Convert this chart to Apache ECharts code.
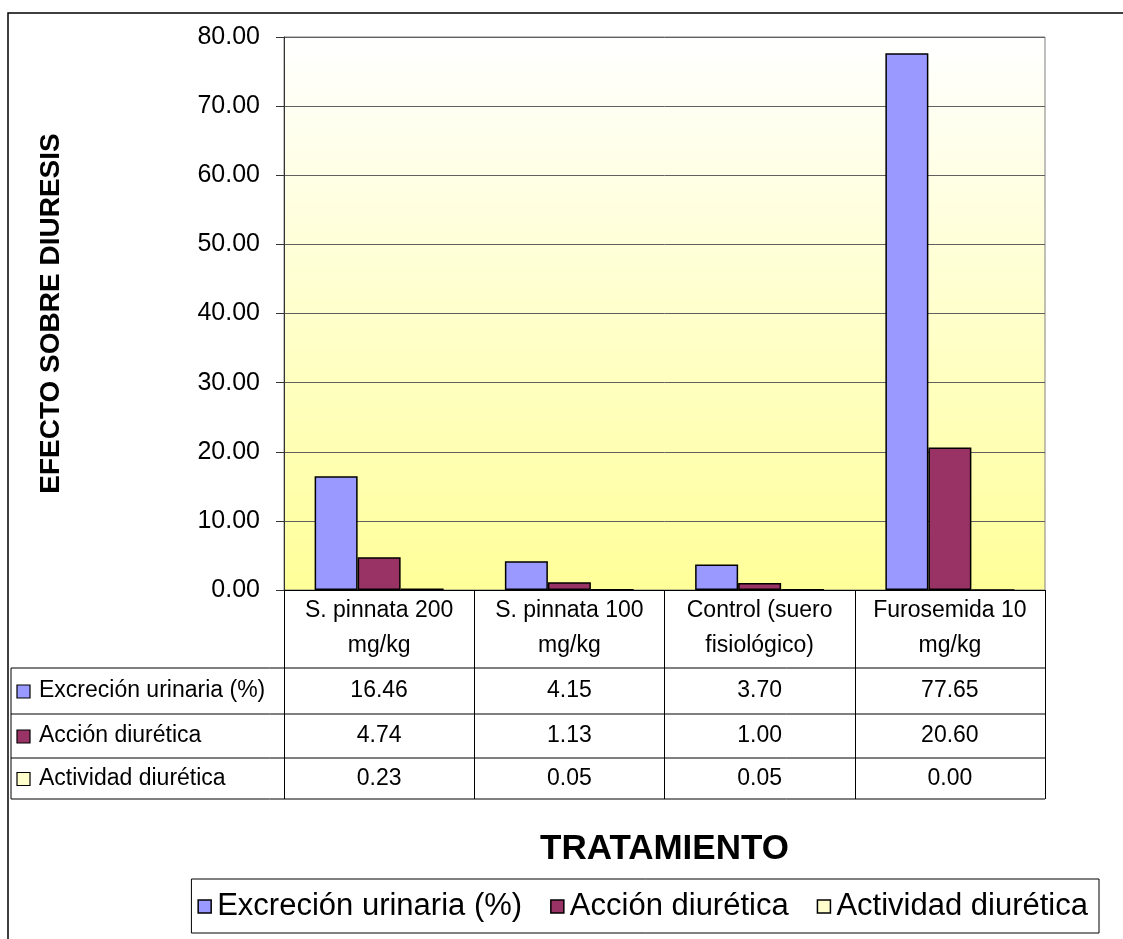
<!DOCTYPE html>
<html>
<head>
<meta charset="utf-8">
<script src="https://cdn.jsdelivr.net/npm/echarts@6/dist/echarts.min.js"></script>
<style>
html, body { margin: 0; padding: 0; background: #fff; }
#main { width: 1123px; height: 939px; }
</style>
</head>
<body>
<div id="main"></div>
<script>
// datos del gráfico
var categories = ['S. pinnata 200\nmg/kg', 'S. pinnata 100\nmg/kg', 'Control (suero\nfisiológico)', 'Furosemida 10\nmg/kg']
var seriesNames = ['Excreción urinaria (%)', 'Acción diurética', 'Actividad diurética']
var excrecion = [16.46, 4.15, 3.70, 77.65]
var accion = [4.74, 1.13, 1.00, 20.60]
var actividad = [0.23, 0.05, 0.05, 0.00]
var yTicks = [0, 10, 20, 30, 40, 50, 60, 70, 80]
var colors = ['#9999FF', '#993366', '#FFFFCC']

var font = '"Liberation Sans", Arial, sans-serif'
var seriesData = [excrecion, accion, actividad]

// zona de trazado (px)
var gridL = 284, gridT = 37, gridR = 1045, gridB = 590
var rowLines = [668, 714, 758, 799]  // lineas horizontales de la tabla
var tableLeft = 11

var myChart = echarts.init(document.getElementById('main'))

var option = {
  animation: false,
  color: colors,
  grid: {
    left: gridL,
    top: gridT,
    right: 1123 - gridR,
    bottom: 939 - gridB,
    show: true,
    borderColor: '#808080',
    borderWidth: 1,
    backgroundColor: new echarts.graphic.LinearGradient(0, 0, 0, 1, [
      { offset: 0, color: '#FFFFFF' },
      { offset: 1, color: '#FFFF99' }
    ])
  },
  legend: {
    data: seriesNames,
    right: 24,
    top: 879,
    padding: [12, 11, 11, 6],
    itemGap: 28,
    itemWidth: 13,
    itemHeight: 13,
    borderColor: '#000',
    borderWidth: 1,
    icon: 'rect',
    itemStyle: { borderColor: '#000', borderWidth: 1.5 },
    textStyle: { fontSize: 31, fontFamily: font, color: '#000', padding: [0, 0, 0, 1] }
  },
  xAxis: {
    type: 'category',
    data: categories,
    name: 'TRATAMIENTO',
    nameLocation: 'middle',
    nameGap: 242,
    nameTextStyle: { fontSize: 35, fontWeight: 'bold', fontFamily: font, color: '#000' },
    axisLine: { lineStyle: { color: '#000', width: 1 } },
    axisTick: { show: true, length: rowLines[rowLines.length - 1] - gridB, lineStyle: { color: '#000' } },
    axisLabel: {
      margin: 3,
      fontSize: 23,
      lineHeight: 35,
      fontFamily: font,
      color: '#000',
      interval: 0
    }
  },
  yAxis: {
    type: 'value',
    min: yTicks[0],
    max: yTicks[yTicks.length - 1],
    interval: yTicks[1] - yTicks[0],
    name: 'EFECTO SOBRE DIURESIS',
    nameLocation: 'middle',
    nameRotate: 90,
    nameGap: 219,
    nameTextStyle: { fontSize: 28, fontWeight: 'bold', fontFamily: font, color: '#000' },
    axisLine: { show: true, lineStyle: { color: '#333', width: 1 } },
    axisTick: { show: true, length: 8, lineStyle: { color: '#333' } },
    axisLabel: {
      margin: 24,
      fontSize: 25,
      fontFamily: font,
      color: '#000',
      formatter: function (v) { return v.toFixed(2) }
    },
    splitLine: { lineStyle: { color: '#606060', width: 1 } }
  },
  series: seriesNames.map(function (name, i) {
    return {
      name: name,
      type: 'bar',
      barWidth: 43,
      barGap: '0%',
      data: seriesData[i],
      itemStyle: { color: colors[i], borderColor: '#000', borderWidth: 1.5 }
    }
  })
}

myChart.setOption(option)

// tabla de datos debajo del eje
var g = []
// borde exterior del gráfico
g.push({ type: 'rect', shape: { x: 8, y: 13, width: 1300, height: 1100 }, style: { fill: 'none', stroke: '#000', lineWidth: 1.5 } })
rowLines.forEach(function (y) {
  g.push({ type: 'line', shape: { x1: tableLeft, y1: y, x2: gridR, y2: y }, style: { stroke: '#000', lineWidth: 1 } })
})
g.push({ type: 'line', shape: { x1: tableLeft, y1: rowLines[0], x2: tableLeft, y2: rowLines[rowLines.length - 1] }, style: { stroke: '#000', lineWidth: 1 } })

seriesNames.forEach(function (name, r) {
  var yc = (rowLines[r] + rowLines[r + 1]) / 2
  g.push({ type: 'rect', shape: { x: 17, y: yc - 6, width: 13, height: 13 }, style: { fill: colors[r], stroke: '#000', lineWidth: 1.2 } })
  g.push({ type: 'text', style: { text: name, x: 39, y: yc, align: 'left', verticalAlign: 'middle', fontSize: 23, fontFamily: font, fill: '#000' } })
  seriesData[r].forEach(function (v, c) {
    var xc = myChart.convertToPixel({ xAxisIndex: 0 }, c)
    g.push({ type: 'text', style: { text: v.toFixed(2), x: xc, y: yc, align: 'center', verticalAlign: 'middle', fontSize: 23, fontFamily: font, fill: '#000' } })
  })
})

myChart.setOption({ graphic: g })
</script>
</body>
</html>
